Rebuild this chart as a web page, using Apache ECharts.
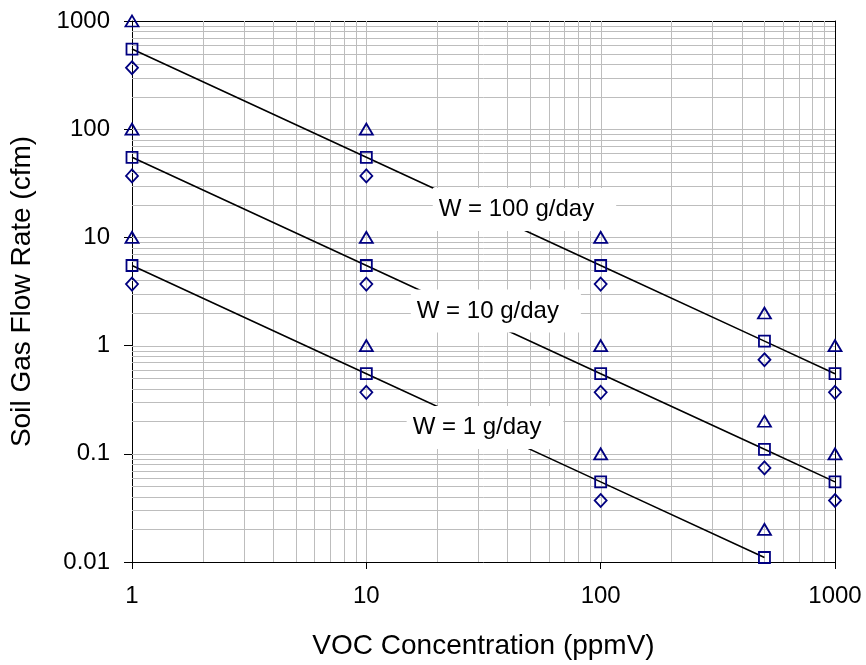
<!DOCTYPE html>
<html>
<head>
<meta charset="utf-8">
<script src="https://cdn.jsdelivr.net/npm/echarts@6/dist/echarts.min.js"></script>
<style>
  html, body { margin: 0; padding: 0; background: #fff; }
  #chart { width: 866px; height: 665px; }
</style>
</head>
<body>
<div id="chart"></div>
<script>
// VOC concentration (ppmV) at which flow rates are evaluated
const conc = [1, 10, 100, 500, 1000];

// Soil gas flow rate (cfm) for each mass removal rate W
const tri100 = [1000, 100, 10, 2, 1];
const sq100  = [550, 55, 5.5, 1.1, 0.55];
const dia100 = [370, 37, 3.7, 0.74, 0.37];

const tri10 = [100, 10, 1, 0.2, 0.1];
const sq10  = [55, 5.5, 0.55, 0.11, 0.055];
const dia10 = [37, 3.7, 0.37, 0.074, 0.037];

const tri1 = [10, 1, 0.1, 0.02, null];
const sq1  = [5.5, 0.55, 0.055, 0.011, null];
const dia1 = [3.7, 0.37, 0.037, null, null];

const wLabels = ['W = 100 g/day', 'W = 10 g/day', 'W = 1 g/day'];

const xTickLabels = ['1', '10', '100', '1000'];
const yTickLabels = ['0.01', '0.1', '1', '10', '100', '1000'];

// log-paper grid values (every 1..9 step in each decade)
const xGrid = [];
for (let d = 1; d <= 100; d *= 10) for (let k = 2; k <= 10; k++) if (d * k < 1000) xGrid.push(d * k);
const yGrid = [];
for (let e = -2; e <= 2; e++) for (let k = 2; k <= 10; k++) { const v = +(k * Math.pow(10, e)).toPrecision(6); if (v < 1000) yGrid.push(v); }

const X_MIN = 1, X_MAX = 1000, Y_MIN = 0.01, Y_MAX = 1000;
const FONT = 'Liberation Sans, Arial, sans-serif';
const NAVY = '#000080';

function pairs(vals) {
  return conc.map((c, i) => [c, vals[i]]).filter(p => p[1] != null);
}

function gridLine(vertical) {
  return function (params, api) {
    const v = api.value(vertical ? 0 : 1);
    const a = vertical ? api.coord([v, Y_MIN]) : api.coord([X_MIN, v]);
    const b = vertical ? api.coord([v, Y_MAX]) : api.coord([X_MAX, v]);
    const snap = x => Math.round(x) + 0.5;
    return {
      type: 'line',
      shape: vertical
        ? { x1: snap(a[0]), y1: a[1], x2: snap(a[0]), y2: b[1] }
        : { x1: a[0], y1: snap(a[1]), x2: b[0], y2: snap(a[1]) },
      style: { stroke: '#bdbdbd', lineWidth: 1 },
      silent: true
    };
  };
}

function markerSeries(vals, symbol, size) {
  return {
    type: 'scatter',
    data: pairs(vals),
    symbol: symbol,
    symbolSize: size,
    itemStyle: { color: 'rgba(0,0,0,0)', borderColor: NAVY, borderWidth: 1.8, opacity: 1 },
    z: 5,
    silent: true
  };
}

function lineSeries(vals) {
  return {
    type: 'line',
    data: pairs(vals),
    showSymbol: false,
    symbol: 'none',
    lineStyle: { color: '#000', width: 1.6, opacity: 1 },
    z: 3,
    silent: true
  };
}

const logFmt = (labels, min) => v => labels[Math.round(Math.log10(v)) - Math.round(Math.log10(min))];

const option = {
  animation: false,
  backgroundColor: '#fff',
  textStyle: { fontFamily: FONT },
  grid: { left: 130, right: 31, top: 21, bottom: 103, containLabel: false },
  xAxis: [{
    type: 'log', logBase: 10, min: X_MIN, max: X_MAX,
    name: 'VOC Concentration (ppmV)', nameLocation: 'middle', nameGap: 70,
    nameTextStyle: { fontSize: 28, color: '#000', fontFamily: FONT },
    axisLine: { show: true, lineStyle: { color: '#000', width: 1 } },
    axisTick: { show: true, length: 7, lineStyle: { color: '#000' } },
    axisLabel: { fontSize: 24, color: '#000', margin: 22, fontFamily: FONT, formatter: logFmt(xTickLabels, X_MIN), showMinLabel: true, showMaxLabel: true },
    splitLine: { show: false }, minorTick: { show: false }
  }, {
    type: 'log', logBase: 10, min: X_MIN, max: X_MAX, position: 'top',
    axisLine: { show: true, lineStyle: { color: '#000', width: 1 } },
    axisTick: { show: false }, axisLabel: { show: false }, splitLine: { show: false }
  }],
  yAxis: [{
    type: 'log', logBase: 10, min: Y_MIN, max: Y_MAX,
    name: 'Soil Gas Flow Rate (cfm)', nameLocation: 'middle', nameGap: 96,
    nameTextStyle: { fontSize: 28, color: '#000', fontFamily: FONT },
    axisLine: { show: true, lineStyle: { color: '#000', width: 1 } },
    axisTick: { show: true, length: 8, lineStyle: { color: '#000' } },
    axisLabel: { fontSize: 24, color: '#000', margin: 22, fontFamily: FONT, formatter: logFmt(yTickLabels, Y_MIN), showMinLabel: true, showMaxLabel: true },
    splitLine: { show: false }, minorTick: { show: false }
  }, {
    type: 'log', logBase: 10, min: Y_MIN, max: Y_MAX, position: 'right',
    axisLine: { show: true, lineStyle: { color: '#000', width: 1 } },
    axisTick: { show: false }, axisLabel: { show: false }, splitLine: { show: false }
  }],
  series: [
    { type: 'custom', renderItem: gridLine(true), data: xGrid.map(v => [v, 1]), z: 1, silent: true, clip: true },
    { type: 'custom', renderItem: gridLine(false), data: yGrid.map(v => [1, v]), z: 1, silent: true, clip: true },

    lineSeries(sq100), lineSeries(sq10), lineSeries(sq1),

    {
      type: 'scatter',
      symbolSize: 1,
      itemStyle: { color: 'rgba(0,0,0,0)', opacity: 1 },
      data: [[47.3, 18.1, wLabels[0]], [35.7, 2.09, wLabels[1]], [32.1, 0.175, wLabels[2]]],
      label: {
        show: true, position: 'inside',
        formatter: p => p.value[2],
        fontSize: 24, color: '#000', fontFamily: FONT, lineHeight: 28,
        backgroundColor: '#fff', padding: [4, 22, 11, 6]
      },
      z: 4,
      silent: true
    },

    markerSeries(tri100, 'triangle', [13, 11]),
    markerSeries(sq100, 'rect', [11, 11]),
    markerSeries(dia100, 'diamond', [12, 13]),
    markerSeries(tri10, 'triangle', [13, 11]),
    markerSeries(sq10, 'rect', [11, 11]),
    markerSeries(dia10, 'diamond', [12, 13]),
    markerSeries(tri1, 'triangle', [13, 11]),
    markerSeries(sq1, 'rect', [11, 11]),
    markerSeries(dia1, 'diamond', [12, 13])
  ]
};

const chart = echarts.init(document.getElementById('chart'), null, { renderer: 'canvas' });
chart.setOption(option);
</script>
</body>
</html>
